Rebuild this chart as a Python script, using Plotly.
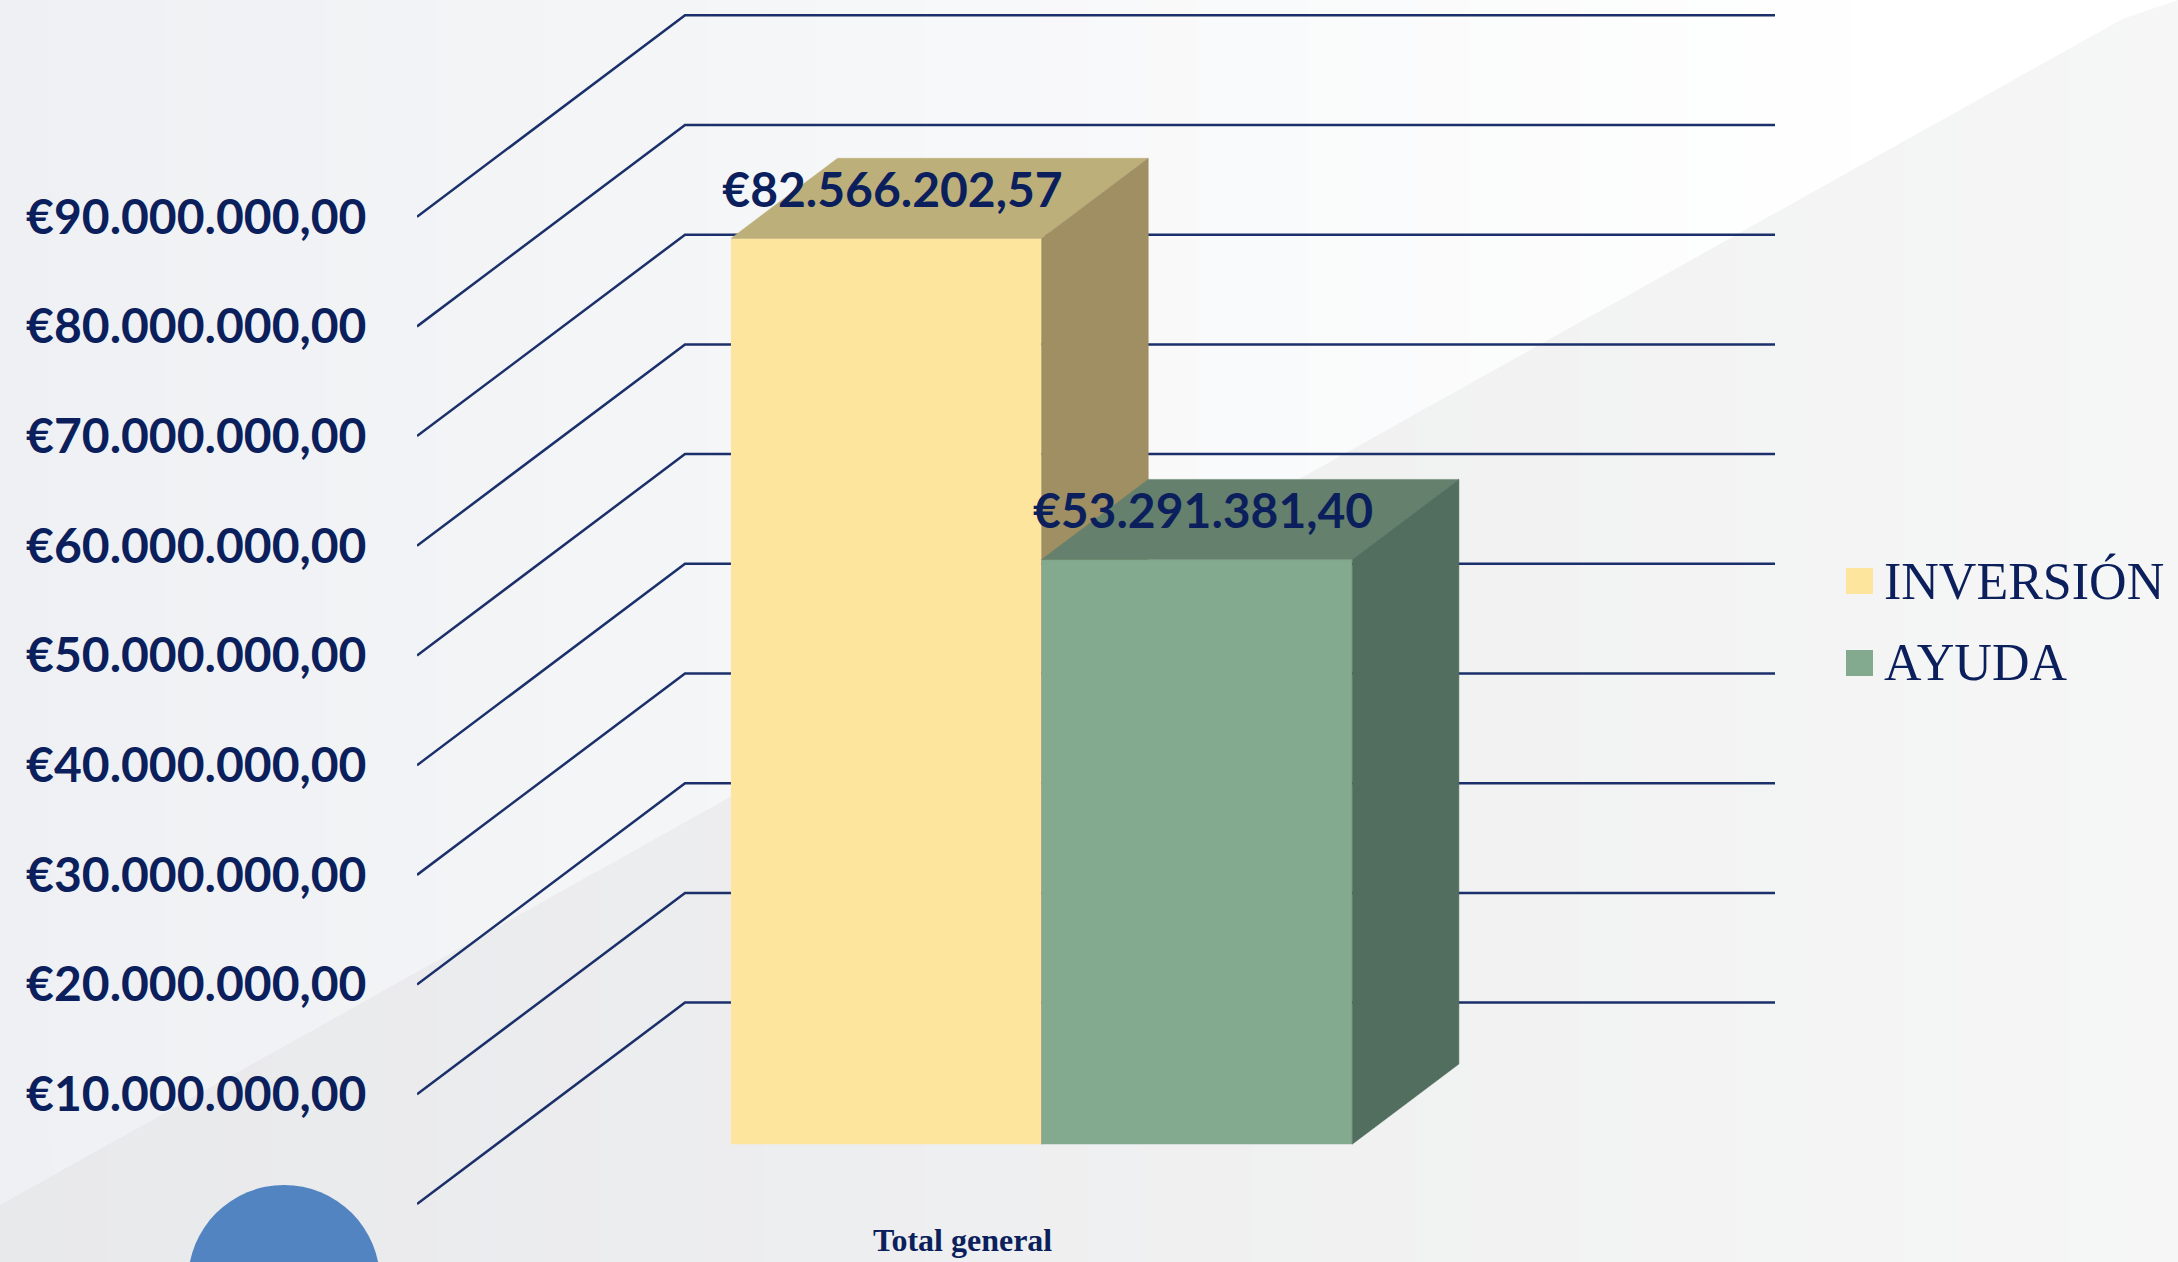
import plotly.graph_objects as go

# ---------------- data ----------------
categories = ["Total general"]
series_names = ["INVERSIÓN", "AYUDA"]
series_values = [82566202.57, 53291381.40]
tick_values = [10000000, 20000000, 30000000, 40000000, 50000000,
               60000000, 70000000, 80000000, 90000000]
tick_labels = ["€10.000.000,00", "€20.000.000,00", "€30.000.000,00",
               "€40.000.000,00", "€50.000.000,00", "€60.000.000,00",
               "€70.000.000,00", "€80.000.000,00", "€90.000.000,00"]
grid_values = [0] + tick_values

# ---------------- style ----------------
front_colors = ["#FEE59E", "#83A98E"]
top_colors = ["#BDAF79", "#65816D"]
side_colors = ["#9F8F62", "#526E5E"]
NAVY = "#0B1F5C"
GRID = "#1B2F6A"


def euro(v):
    s = f"{v:,.2f}"
    s = s.replace(",", "X").replace(".", ",").replace("X", ".")
    return "€" + s


# ---------------- geometry (3D projection) ----------------
FIG_W, FIG_H = 2178, 1262
PL, PR = 417, 1775            # plot area in pixels
Y0_PX = 1204                  # pixel of value 0 on front plane
PX_PER_10M = 109.7
X_UNIT_PX = 1090.0
DX = 268 / X_UNIT_PX          # depth offset in category units
DY = 201.4 / PX_PER_10M * 1e7  # depth offset in value units
D0, D1 = 0.297, 0.695         # bar depth span
BAR_W = 0.285
cat_pos = 0.0

x_range = [-0.5, 0.5 + DX]
y_range = [-(FIG_H - Y0_PX) / PX_PER_10M * 1e7, Y0_PX / PX_PER_10M * 1e7]


def px_x(p):
    return (p - PL) / (PR - PL)


def px_y(p):
    return 1 - p / FIG_H


fig = go.Figure()

# wall grid lines (diagonal side + back wall)
gx, gy = [], []
for v in grid_values:
    gx += [-0.5, -0.5 + DX, 0.5 + DX, None]
    gy += [v, v + DY, v + DY, None]
fig.add_trace(go.Scatter(x=gx, y=gy, mode="lines",
                         line=dict(color=GRID, width=2.5),
                         hoverinfo="skip", showlegend=False, zorder=0))

# bars
for i, (name, v) in enumerate(zip(series_names, series_values)):
    xl = cat_pos - BAR_W + i * BAR_W
    xr = xl + BAR_W
    fig.add_trace(go.Bar(
        x=[cat_pos], y=[v], base=[D0 * DY], width=[BAR_W],
        offset=[xl - cat_pos + D0 * DX], name=name,
        marker=dict(color=front_colors[i], line=dict(width=0)),
        showlegend=False, zorder=1 + 2 * i,
        hovertemplate=name + ": " + euro(v) + "<extra></extra>"))
    # top face
    fig.add_trace(go.Scatter(
        x=[xl + D0 * DX, xr + D0 * DX, xr + D1 * DX, xl + D1 * DX, xl + D0 * DX],
        y=[v + D0 * DY, v + D0 * DY, v + D1 * DY, v + D1 * DY, v + D0 * DY],
        mode="lines", fill="toself", fillcolor=top_colors[i],
        line=dict(color=top_colors[i], width=0.5),
        hoverinfo="skip", showlegend=False, zorder=2 + 2 * i))
    # side face
    fig.add_trace(go.Scatter(
        x=[xr + D0 * DX, xr + D1 * DX, xr + D1 * DX, xr + D0 * DX, xr + D0 * DX],
        y=[D0 * DY, D1 * DY, v + D1 * DY, v + D0 * DY, D0 * DY],
        mode="lines", fill="toself", fillcolor=side_colors[i],
        line=dict(color=side_colors[i], width=0.5),
        hoverinfo="skip", showlegend=False, zorder=2 + 2 * i))

# data labels
lx, ly, lt = [], [], []
for i, v in enumerate(series_values):
    xl = cat_pos - BAR_W + i * BAR_W
    lx.append(xl + BAR_W / 2 + 0.32 * DX)
    ly.append(v + 0.511 * DY)
    lt.append(euro(v))
fig.add_trace(go.Scatter(
    x=lx, y=ly, text=lt, mode="text", textposition="middle center",
    textfont=dict(family="Lato", size=48, color=NAVY, weight="bold"),
    cliponaxis=False, hoverinfo="skip", showlegend=False, zorder=10))

# ---------------- background decoration ----------------
shapes = []


def lerp(c1, c2, t):
    a = [int(c1[k:k + 2], 16) for k in (1, 3, 5)]
    b = [int(c2[k:k + 2], 16) for k in (1, 3, 5)]
    return "rgb(%d,%d,%d)" % tuple(round(a[j] + (b[j] - a[j]) * t) for j in range(3))


LINE_X0, LINE_Y0 = 2157.0, 1205.0   # diagonal from (LINE_X0,0) to (0,LINE_Y0)


def yline(x):
    return max(0.0, LINE_Y0 * (1 - x / LINE_X0))


N = 40
for k in range(N):
    xa = FIG_W * k / N
    xb = FIG_W * (k + 1) / N + 1
    t = (k + 0.5) / N
    ua, ub = yline(xa), yline(xb)
    if ua > 0:
        path = "M %f %f L %f %f L %f %f L %f %f Z" % (
            px_x(xa), px_y(0), px_x(xb), px_y(0), px_x(xb), px_y(ub), px_x(xa), px_y(ua))
        shapes.append(dict(type="path", path=path, xref="paper", yref="paper",
                           fillcolor=lerp("#EEF0F3", "#FFFFFF", min(1, t * 1.15)),
                           line=dict(width=0), layer="below"))
    path = "M %f %f L %f %f L %f %f L %f %f Z" % (
        px_x(xa), px_y(ua), px_x(xb), px_y(ub), px_x(xb), px_y(FIG_H), px_x(xa), px_y(FIG_H))
    shapes.append(dict(type="path", path=path, xref="paper", yref="paper",
                       fillcolor=lerp("#E8E9EB", "#F6F6F6", t),
                       line=dict(width=0), layer="below"))

# blue circle decoration
cx, cy, r = 284, 1281, 96
shapes.append(dict(type="circle", xref="paper", yref="paper",
                   x0=px_x(cx - r), x1=px_x(cx + r), y0=px_y(cy + r), y1=px_y(cy - r),
                   fillcolor="#5384C2", line=dict(width=0), layer="above"))

# manual legend
annotations = []
for i, name in enumerate(series_names):
    cyl = 581 + 82 * i
    shapes.append(dict(type="rect", xref="paper", yref="paper",
                       x0=px_x(1846), x1=px_x(1873),
                       y0=px_y(cyl + 13), y1=px_y(cyl - 13),
                       fillcolor=front_colors[i], line=dict(width=0)))
    annotations.append(dict(x=px_x(1882), y=px_y(cyl), xref="paper", yref="paper",
                            text=name, showarrow=False, xanchor="left", yanchor="middle",
                            font=dict(family="Liberation Serif", size=52, color=NAVY)))

# category label
annotations.append(dict(x=cat_pos, y=px_y(1240), xref="x", yref="paper",
                        text="<b>" + categories[0] + "</b>", showarrow=False,
                        xanchor="center", yanchor="middle",
                        font=dict(family="Liberation Serif", size=32, color=NAVY)))

fig.update_layout(
    width=FIG_W, height=FIG_H,
    margin=dict(l=PL, r=FIG_W - PR, t=0, b=0, pad=0),
    paper_bgcolor="#F3F3F4", plot_bgcolor="rgba(0,0,0,0)",
    barmode="overlay", showlegend=False,
    shapes=shapes, annotations=annotations,
    xaxis=dict(range=x_range, visible=False, fixedrange=True),
    yaxis=dict(range=y_range, tickvals=tick_values, ticktext=tick_labels,
               showgrid=False, zeroline=False, showline=False,
               ticks="outside", ticklen=40, tickcolor="rgba(0,0,0,0)",
               tickfont=dict(family="Lato", size=48, color=NAVY, weight="bold"),
               automargin=False, fixedrange=True),
)

fig.write_html(
    "out.html",
    config={"displayModeBar": False},
    post_script="document.body.style.margin='0px';document.body.style.overflow='hidden';",
)
